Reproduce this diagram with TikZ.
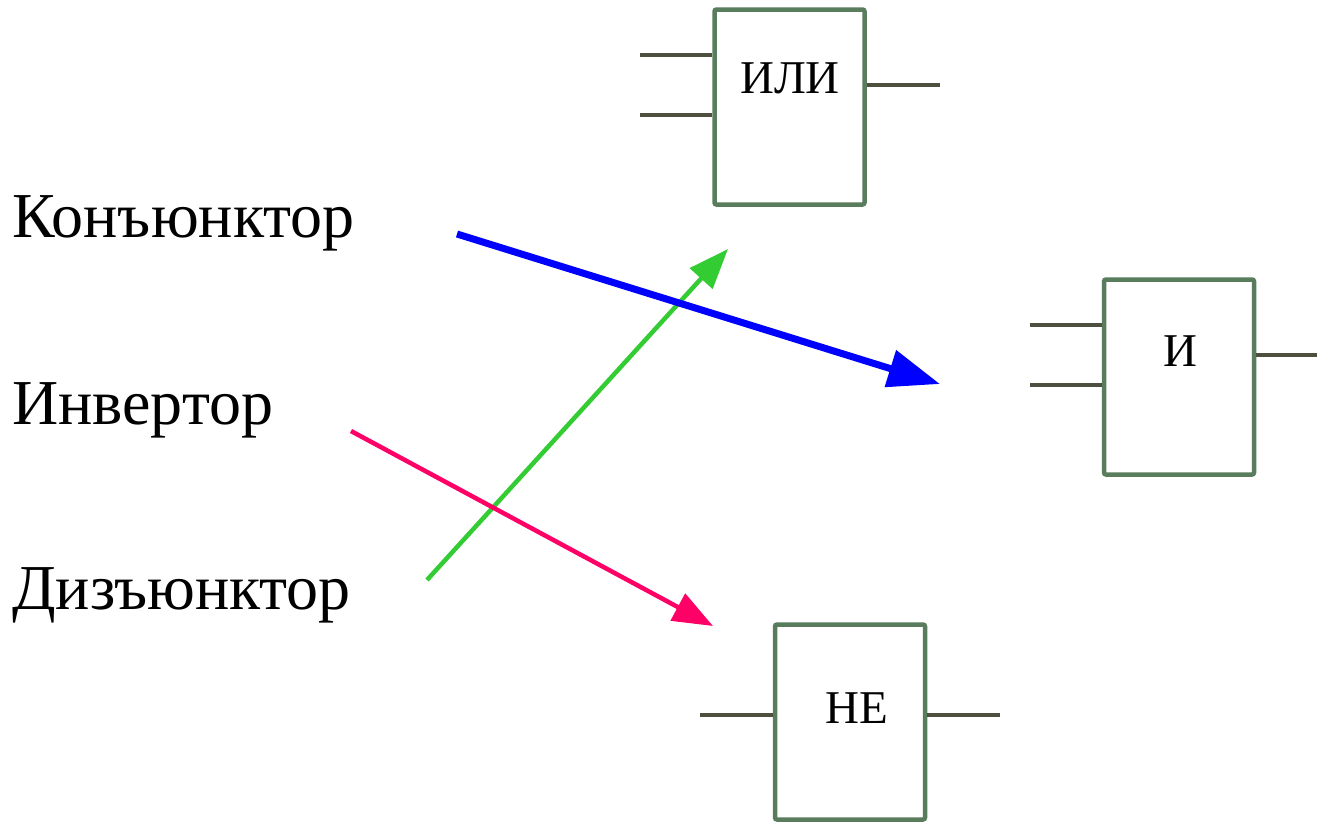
\documentclass[tikz,border=0pt]{standalone}
\usepackage{fontspec}
\setmainfont{Liberation Serif}
\usetikzlibrary{arrows.meta}
\definecolor{gatebox}{HTML}{587C5C}
\definecolor{pin}{HTML}{4F4F3F}
\definecolor{conjblue}{HTML}{0000FF}
\definecolor{disjgreen}{HTML}{33CC33}
\definecolor{invpink}{HTML}{FF0066}
\begin{document}
\begin{tikzpicture}[x=1pt,y=-1pt,
  gate/.style={draw=gatebox,line width=4.5pt,rounded corners=2pt,fill=white,
    minimum width=150pt,minimum height=195pt,inner sep=0pt},
  gatetext/.style={font=\fontsize{47}{50}\selectfont,anchor=base,inner sep=0pt},
  pinline/.style={draw=pin,line width=3.5pt},
  term/.style={font=\fontsize{64}{70}\selectfont,anchor=base west,inner sep=0pt},
  link/.style={line width=4.5pt,-{Triangle[length=40pt,width=30pt]}}
]
\useasboundingbox (0,0) rectangle (1317,823);

% gates
\node[gate] (or)  at (789.5,107) {};
\node[gate] (and) at (1179,377) {};
\node[gate] (not) at (850,722) {};
\node[gatetext] (ortext)  at (790,93)  {ИЛИ};
\node[gatetext] (andtext) at (1180,366) {И};
\node[gatetext] (nottext) at (857,723) {НЕ};

% pins
\coordinate (or-in1) at (640,55);
\coordinate (or-in2) at (640,115);
\coordinate (or-out) at (940,85);
\coordinate (and-in1) at (1030,325);
\coordinate (and-in2) at (1030,385);
\coordinate (and-out) at (1317,355);
\coordinate (not-in) at (700,715);
\coordinate (not-out) at (1000,715);
\draw[pinline] (or-in1) -- (or-in1 -| or.west);
\draw[pinline] (or-in2) -- (or-in2 -| or.west);
\draw[pinline] (or.east |- or-out) -- (or-out);
\draw[pinline] (and-in1) -- (and-in1 -| and.west);
\draw[pinline] (and-in2) -- (and-in2 -| and.west);
\draw[pinline] (and.east |- and-out) -- (and-out);
\draw[pinline] (not-in) -- (not-in -| not.west);
\draw[pinline] (not.east |- not-out) -- (not-out);

% terms
\node[term] (conj) at (12,237) {Конъюнктор};
\node[term] (inv)  at (12,424) {Инвертор};
\node[term] (disj) at (12,609) {Дизъюнктор};

% matching arrows
\coordinate (conj-from) at (457,234);
\coordinate (conj-to)   at (940,384);
\coordinate (disj-from) at (427,580);
\coordinate (disj-to)   at (728,249);
\coordinate (inv-from)  at (351,431);
\coordinate (inv-to)    at (713,626);
\draw[link,draw=disjgreen,fill=disjgreen] (disj-from) -- (disj-to);
\draw[link,draw=invpink,fill=invpink] (inv-from) -- (inv-to);
\draw[link,line width=7pt,draw=conjblue,fill=conjblue,
  -{Triangle[length=52pt,width=37pt]}] (conj-from) -- (conj-to);
\end{tikzpicture}
\end{document}
